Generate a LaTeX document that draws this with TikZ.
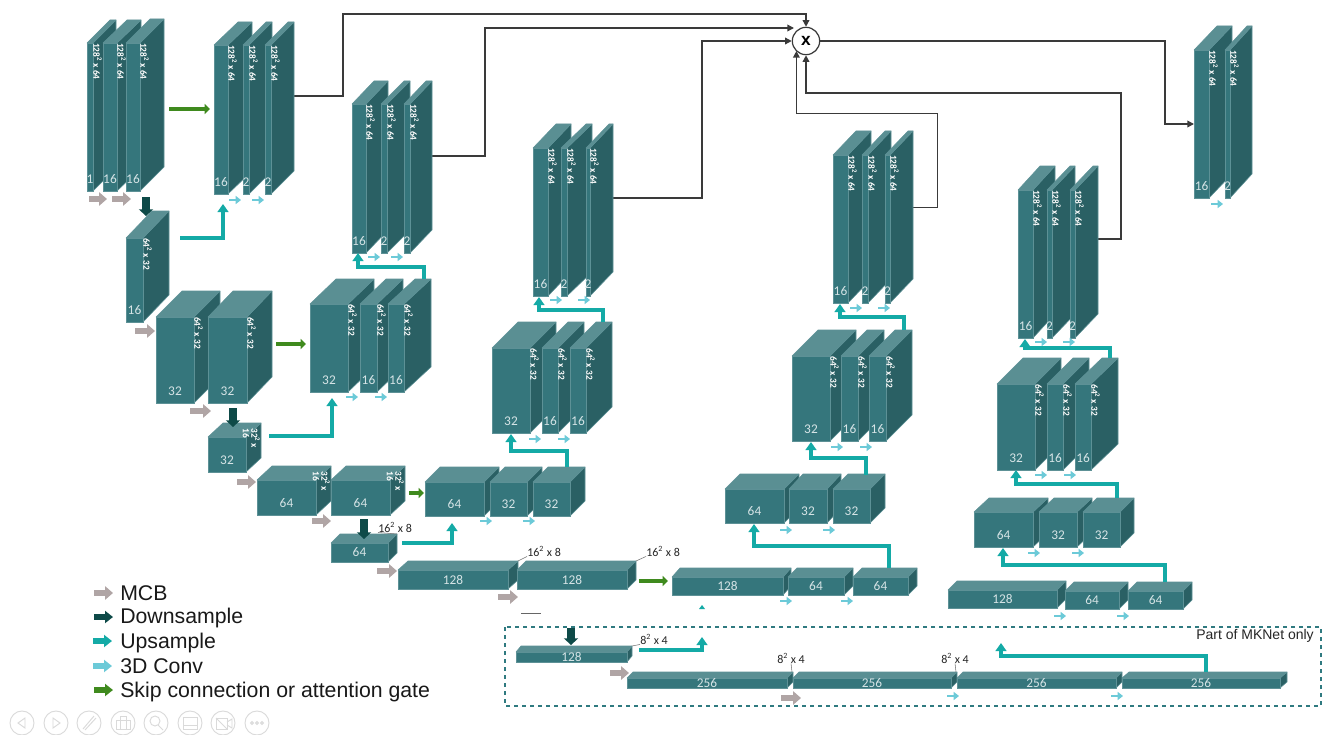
\documentclass[tikz,border=0pt]{standalone}
\usepackage{fontspec}
\setmainfont{Liberation Sans}
\newfontfamily\blockfont{Carlito}
\usetikzlibrary{arrows.meta}
\definecolor{cfront}{HTML}{35767C}
\definecolor{ctop}{HTML}{5A8F93}
\definecolor{cside}{HTML}{2A6064}
\definecolor{cedge}{HTML}{D6E4E6}
\definecolor{cmcb}{HTML}{B0A5A5}
\definecolor{cdown}{HTML}{0E4A48}
\definecolor{cup}{HTML}{14AAA6}
\definecolor{cconv}{HTML}{6CCAD8}
\definecolor{cskip}{HTML}{3F8A1E}
\definecolor{cwire}{HTML}{3A3A3A}
\definecolor{cdash}{HTML}{2F7A80}
\definecolor{cicon}{HTML}{DADADA}
\tikzset{
  face/.style={fill=cfront,draw=cfront!80!white,line width=.5pt,inner sep=0pt,outer sep=0pt},
  tface/.style={fill=ctop,draw=cfront!80!white,line width=.4pt,line join=round},
  sface/.style={fill=cside,draw=cfront!80!white,line width=.4pt,line join=round},
  blab/.style={text=cedge,font=\blockfont\fontsize{10}{11}\selectfont,inner sep=0pt},
  stext/.style={text=white,font=\blockfont\bfseries\fontsize{7}{7.4}\selectfont,inner sep=0pt,rotate=-90,align=left},
  dimlab/.style={text=black!85,font=\blockfont\fontsize{9}{10}\selectfont,inner sep=0pt},
  mcb/.style={draw=cmcb,line width=4pt,-{Triangle[length=6pt,width=10pt]}},
  down/.style={draw=cdown,line width=5.5pt,-{Triangle[length=5pt,width=10.5pt]}},
  up/.style={draw=cup,line width=2.4pt,-{Triangle[length=6pt,width=8pt]}},
  conv/.style={draw=cconv,line width=1.6pt,-{Triangle[length=4pt,width=6pt]}},
  skipa/.style={draw=cskip,line width=2.8pt,-{Triangle[length=4pt,width=7.5pt]}},
  wire/.style={draw=cwire,line width=1pt,-{Triangle[length=5pt,width=5pt]}},
  leader/.style={draw=black!55,line width=.4pt},
  leglab/.style={font=\fontsize{15.95}{17}\selectfont,anchor=base west,inner sep=0pt,text=black!90},
  iconc/.style={draw=cicon,line width=.7pt},
}
% name, x1, x2, ytop, ybot, xback, ybacktop, label
\newcommand\cuboid[8]{%
  \pgfmathsetmacro\cw{(#3-#2)*0.75}%
  \pgfmathsetmacro\ch{(#5-#4)*0.75}%
  \pgfmathsetmacro\cd{#6-#3}%
  \pgfmathsetmacro\ce{#4-#7}%
  \pgfmathsetmacro\cmx{(#2+#3)/2}%
  \pgfmathsetmacro\cmy{(#4+#5)/2}%
  \pgfmathsetmacro\cly{#5-min((#5-#4)/2,12)}%
  \fill[sface,draw=cfront!80!white] (#3,#4) -- (#6,#7) -- (#6,#5-\ce) -- (#3,#5) -- cycle;
  \fill[tface,draw=cfront!80!white] (#2,#4) -- (#3,#4) -- (#6,#7) -- (#2+\cd,#7) -- cycle;
  \node[face,minimum width=\cw pt,minimum height=\ch pt] (#1) at (\cmx,\cmy) {};
  \node[blab] (#1l) at (\cmx,\cly) {#8};
}
% the same, with a printed size on the side face
\newcommand\tb[9]{%
  \cuboid{#1}{#2}{#3}{#4}{#5}{#6}{#7}{#8}%
  \node[stext,anchor=west] (#1s) at (#3+4.5,#4) {#9};
}
\newcommand\cb[9]{%
  \cuboid{#1}{#2}{#3}{#4}{#5}{#6}{#7}{#8}%
  \node[stext,anchor=north west] (#1s) at (#6-1,#7+5) {#9};
}
\begin{document}
\begin{tikzpicture}[x=0.75pt,y=-0.75pt]
\useasboundingbox (0,0) rectangle (1322,735);
\fill[white] (0,0) rectangle (1322,735);

% wires (behind blocks)
\node[draw=cwire,line width=.9pt,circle,minimum size=20.5pt,inner sep=0pt,fill=white,font=\bfseries\fontsize{13}{14}\selectfont] (mult) at (806,41) {x};
\coordinate (s1) at (294,96);
\coordinate (s2) at (432,156);
\coordinate (s3) at (613,198);
\coordinate (s4) at (913,207.4);
\coordinate (s5) at (1098,239);
\coordinate (in2) at (794,28);
\coordinate (ot) at (1194,124);
\draw[wire] (s1) -- (343,96) -- (343,14) -- (806,14) -- (mult.north);
\draw[wire] (s2) -- (485,156) -- (485,28) -- (in2);
\draw[wire] (s3) -- (702,198) -- (702,41) -- (mult.west);
\draw[wire] (s4) -- (937.4,207.4) -- (937.4,113.4) -- (796.4,113.4) -- (796.4,51);
\draw[wire] (s5) -- (1121,239) -- (1121,93) -- (806,93) -- (mult.south);
\draw[wire] (mult.east) -- (1165,41) -- (1165,124) -- (ot);

% column 1
\tb{a1}{87}{93}{43}{191}{116}{20}{1}{128\textsuperscript{2} x 64}
\tb{a2}{103}{117}{43}{191}{141}{20}{16}{128\textsuperscript{2} x 64}
\tb{a3}{126}{140}{43}{191}{164}{19}{16}{128\textsuperscript{2} x 64}
\tb{b0}{126}{143}{238}{322}{169}{211}{16}{64\textsuperscript{2} x 32}
\tb{b1}{156}{194}{317}{403}{220}{291}{32}{64\textsuperscript{2} x 32}
\tb{b2}{208}{247}{317}{403}{272}{291}{32}{64\textsuperscript{2} x 32}
\cb{c0}{208}{246}{437}{472}{261}{423}{32}{32\textsuperscript{2} x\\[-1pt]16}
\cb{c1}{257}{316}{480}{515}{331}{466}{64}{32\textsuperscript{2} x\\[-1pt]16}
\cb{c2}{331}{390}{480}{515}{405}{466}{64}{32\textsuperscript{2} x\\[-1pt]16}
\cuboid{d0}{331}{388}{543}{562}{397}{534}{64}
\cuboid{e1}{398}{508}{570}{589}{518}{561}{128}
\cuboid{e2}{517}{627}{570}{589}{636}{561}{128}
\cuboid{f0}{516}{627}{652}{662}{632}{646}{128}
\cuboid{g1}{627}{787}{678}{688}{793}{672}{256}
\cuboid{g2}{793}{951}{678}{688}{957}{672}{256}
\cuboid{g3}{957}{1116}{678}{688}{1122}{672}{256}
\cuboid{g4}{1122}{1280}{678}{688}{1287}{672}{256}

% column A2
\tb{h1}{214}{228}{45}{194}{252}{22}{16}{128\textsuperscript{2} x 64}
\tb{h2}{243}{249}{45}{194}{272}{22}{2}{128\textsuperscript{2} x 64}
\tb{h3}{265}{271}{45}{194}{294}{22}{2}{128\textsuperscript{2} x 64}
% column 2
\tb{i1}{352}{366}{104}{253}{388}{81}{16}{128\textsuperscript{2} x 64}
\tb{i2}{381}{387}{104}{253}{410}{81}{2}{128\textsuperscript{2} x 64}
\tb{i3}{404}{410}{104}{253}{432}{81}{2}{128\textsuperscript{2} x 64}
\tb{j1}{310}{348}{304}{392}{374}{279}{32}{64\textsuperscript{2} x 32}
\tb{j2}{360}{377}{304}{392}{403}{279}{16}{64\textsuperscript{2} x 32}
\tb{j3}{388}{404}{304}{392}{431}{279}{16}{64\textsuperscript{2} x 32}
% column 3
\tb{k1}{533}{548}{148}{296}{571}{124}{16}{128\textsuperscript{2} x 64}
\tb{k2}{561}{567}{148}{296}{592}{124}{2}{128\textsuperscript{2} x 64}
\tb{k3}{586}{590}{148}{296}{613}{124}{2}{128\textsuperscript{2} x 64}
\tb{l1}{492}{530}{348}{433}{556}{322}{32}{64\textsuperscript{2} x 32}
\tb{l2}{542}{558}{348}{433}{584}{322}{16}{64\textsuperscript{2} x 32}
\tb{l3}{570}{586}{348}{433}{612}{322}{16}{64\textsuperscript{2} x 32}
\cuboid{m1}{425}{484}{482}{516}{499}{467}{64}
\cuboid{m2}{490}{527}{482}{516}{542}{467}{32}
\cuboid{m3}{533}{570}{482}{516}{585}{467}{32}
% column 4
\tb{n1}{833}{848}{155}{303}{871}{131}{16}{128\textsuperscript{2} x 64}
\tb{n2}{862}{868}{155}{303}{891}{131}{2}{128\textsuperscript{2} x 64}
\tb{n3}{885}{890}{155}{303}{913}{131}{2}{128\textsuperscript{2} x 64}
\tb{o1}{792}{830}{356}{441}{856}{330}{32}{64\textsuperscript{2} x 32}
\tb{o2}{841}{858}{356}{441}{884}{330}{16}{64\textsuperscript{2} x 32}
\tb{o3}{869}{886}{356}{441}{912}{330}{16}{64\textsuperscript{2} x 32}
\cuboid{p1}{725}{784}{489}{523}{799}{474}{64}
\cuboid{p2}{789}{827}{489}{523}{841}{474}{32}
\cuboid{p3}{833}{870}{489}{523}{885}{474}{32}
\cuboid{q1}{672}{783}{577}{595}{791}{568}{128}
\cuboid{q2}{788}{844}{577}{595}{853}{568}{64}
\cuboid{q3}{853}{908}{577}{595}{917}{568}{64}
% column 5
\tb{r1}{1018}{1033}{190}{338}{1055}{166}{16}{128\textsuperscript{2} x 64}
\tb{r2}{1047}{1052}{190}{338}{1075}{166}{2}{128\textsuperscript{2} x 64}
\tb{r3}{1070}{1075}{190}{338}{1098}{166}{2}{128\textsuperscript{2} x 64}
\tb{t1}{997}{1035}{384}{470}{1061}{358}{32}{64\textsuperscript{2} x 32}
\tb{t2}{1047}{1063}{384}{470}{1089}{358}{16}{64\textsuperscript{2} x 32}
\tb{t3}{1075}{1091}{384}{470}{1118}{358}{16}{64\textsuperscript{2} x 32}
\cuboid{u1}{974}{1033}{512}{547}{1048}{498}{64}
\cuboid{u2}{1039}{1077}{512}{547}{1092}{498}{32}
\cuboid{u3}{1083}{1120}{512}{547}{1134}{498}{32}
\cuboid{v1}{948}{1057}{590}{608}{1066}{581}{128}
\cuboid{v2}{1065}{1119}{591}{609}{1128}{582}{64}
\cuboid{v3}{1128}{1183}{591}{609}{1192}{582}{64}
% output
\tb{w1}{1194}{1209}{50}{198}{1232}{26}{16}{128\textsuperscript{2} x 64}
\tb{w2}{1225}{1230}{50}{198}{1252}{26}{2}{128\textsuperscript{2} x 64}

% MCB arrows
\draw[mcb] (89,199) -- (107,199);
\draw[mcb] (112,199) -- (131,199);
\draw[mcb] (135,331) -- (155,331);
\draw[mcb] (190,411) -- (211,411);
\draw[mcb] (237,482) -- (256,482);
\draw[mcb] (312,521) -- (331,521);
\draw[mcb] (377,571) -- (397,571);
\draw[mcb] (498,597) -- (518,597);
\draw[mcb] (610,673) -- (629,673);
\draw[mcb] (781,698) -- (801,698);
% Downsample arrows
\draw[down] (146,197) -- (146,216);
\draw[down] (233,408) -- (233,427);
\draw[down] (364,519) -- (364,539);
\draw[down] (571,628) -- (571,645);
% Skip arrows
\draw[skipa] (169,109) -- (210,109);
\draw[skipa] (276,344) -- (306,344);
\draw[skipa] (409,493) -- (424,493);
\draw[skipa] (639,581) -- (668,581);
% Upsample arrows
\draw[up,line width=3pt] (180,238) -- (223,238) -- (223,204);
\draw[up,line width=3pt] (269,436) -- (332,436) -- (332,398);
\draw[up,line width=3pt] (402,543) -- (452,543) -- (452,523);
\draw[up] (639,650) -- (702,650) -- (702,637);
\draw[up] (1206,672) -- (1206,656) -- (1001,656) -- (1001,643);
\draw[up] (889,568) -- (889,546) -- (754,546) -- (754,524);
\draw[up] (1165,582) -- (1165,565) -- (1003,565) -- (1003,548);
\draw[up] (567,467) -- (567,451) -- (511,451) -- (511,434);
\draw[up] (424,279) -- (424,267) -- (358,267) -- (358,253);
\draw[up] (603,322) -- (603,310) -- (539,310) -- (539,297);
\draw[up] (866,475) -- (866,458) -- (811,458) -- (811,442);
\draw[up] (904,330) -- (904,317) -- (840,317) -- (840,304);
\draw[up] (1110,358) -- (1110,348) -- (1025,348) -- (1025,339);
\draw[up] (1117,498) -- (1117,484) -- (1016,484) -- (1016,470);
% 3D conv arrows
\foreach \ax/\ay in {229/200,252/200,368/257,391/257,346/397,375/397,480/521,523/521,529/439,558/439,550/300,578/300,
  780/601,841/601,780/530,823/530,831/447,860/447,850/308,878/308,1054/616,1117/616,1028/553,1072/553,1035/475,1064/475,1035/342,1063/342,1211/204,947/696,1111/696}
  \draw[conv] (\ax,\ay) -- ++(12,0);

% dimension labels
\node[dimlab,anchor=west] (dl1) at (378,527) {16\textsuperscript{2} x 8};
\node[dimlab,anchor=west] (dl2) at (527,551) {16\textsuperscript{2} x 8};
\node[dimlab,anchor=west] (dl3) at (646,551) {16\textsuperscript{2} x 8};
\node[dimlab,anchor=west] (dl4) at (640,639) {8\textsuperscript{2} x 4};
\node[dimlab,anchor=west] (dl5) at (777,658) {8\textsuperscript{2} x 4};
\node[dimlab,anchor=west] (dl6) at (941,658) {8\textsuperscript{2} x 4};
\coordinate (lk1) at (397,534);
\coordinate (lk2) at (518,561);
\coordinate (lk3) at (636,561);
\coordinate (lk4) at (632,646);
\coordinate (lk5) at (792,672);
\coordinate (lk6) at (956,672);
\draw[leader] (dl1.south west) -- (lk1);
\draw[leader] (dl2.south west) -- (lk2);
\draw[leader] (dl3.south west) -- (lk3);
\draw[leader] (dl4.south west) -- (lk4);
\draw[leader] (dl5.south) -- (lk5);
\draw[leader] (dl6.south) -- (lk6);

% MKNet frame
\draw[draw=cdash,line width=1pt,dashed] (505,627) rectangle (1321,706);
\node[anchor=east,inner sep=0pt,text=black!85,font=\fontsize{10.5}{11}\selectfont] (mk) at (1314,636) {Part of MKNet only};

% stray marks of the source slide
\draw[draw=black!60,line width=.6pt] (521,613) -- (541,613);
\fill[cup] (699,609) -- (702,605) -- (705,609) -- cycle;

% legend
\draw[mcb] (94,593) -- (113,593);
\draw[down,line width=4pt,-{Triangle[length=6pt,width=9pt]}] (94,617) -- (113,617);
\draw[up,line width=4pt,-{Triangle[length=6pt,width=9pt]}] (93,641) -- (112,641);
\draw[conv,line width=4pt,-{Triangle[length=6pt,width=9pt]}] (93,666) -- (112,666);
\draw[skipa,line width=4pt,-{Triangle[length=6pt,width=9pt]}] (94,690) -- (113,690);
\node[leglab] (lg1) at (120,600) {MCB};
\node[leglab] (lg2) at (120,623) {Downsample};
\node[leglab] (lg3) at (120,648) {Upsample};
\node[leglab] (lg4) at (120,673) {3D Conv};
\node[leglab] (lg5) at (120,697) {Skip connection or attention gate};

% slide toolbar
\foreach \cx in {22,56,89,123,156,190,223,257}
  \draw[iconc] (\cx,723) circle[radius=12];
\draw[iconc] (25,718) -- (18,723) -- (25,728) -- cycle;
\draw[iconc] (53,718) -- (60,723) -- (53,728) -- cycle;
\draw[iconc] (83,729) -- (94,716);
\draw[iconc] (85,730) -- (96,718);
\draw[iconc] (116,720) rectangle (130,729);
\draw[iconc] (120,716) rectangle (126,729);
\draw[iconc] (155,721) circle[radius=5];
\draw[iconc] (158,725) -- (163,730);
\draw[iconc] (183,717) rectangle (197,729);
\draw[iconc] (183,725) -- (197,725);
\draw[iconc] (216,718) rectangle (227,729);
\draw[iconc] (227,722) -- (232,719) -- (232,728) -- (227,725);
\draw[iconc] (216,718) -- (227,729);
\foreach \dx in {252,257,262} \draw[iconc] (\dx,723) circle[radius=1.4];
\end{tikzpicture}
\end{document}
